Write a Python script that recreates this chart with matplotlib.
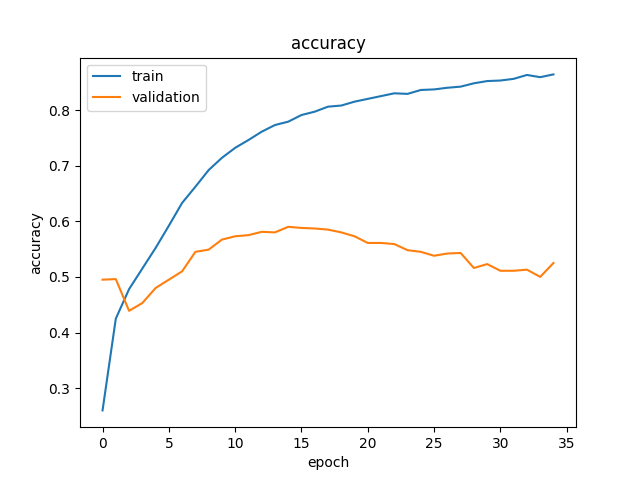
import matplotlib
matplotlib.use('Agg')
import matplotlib.pyplot as plt

# accuracy per epoch
train_acc = [0.260, 0.425, 0.478, 0.515, 0.552, 0.592, 0.633, 0.662, 0.692, 0.714,
             0.732, 0.746, 0.761, 0.773, 0.779, 0.791, 0.797, 0.806, 0.808, 0.815,
             0.820, 0.825, 0.830, 0.829, 0.836, 0.837, 0.840, 0.842, 0.848, 0.852,
             0.853, 0.856, 0.863, 0.859, 0.864]
val_acc = [0.495, 0.496, 0.439, 0.453, 0.480, 0.495, 0.510, 0.545, 0.549, 0.567,
           0.573, 0.575, 0.581, 0.580, 0.590, 0.588, 0.587, 0.585, 0.580, 0.573,
           0.561, 0.561, 0.559, 0.548, 0.545, 0.538, 0.542, 0.543, 0.516, 0.523,
           0.511, 0.511, 0.513, 0.500, 0.525]

fig = plt.figure(figsize=(6.4, 4.8), dpi=100)
plt.plot(train_acc)
plt.plot(val_acc)
plt.title('accuracy')
plt.ylabel('accuracy')
plt.xlabel('epoch')
plt.legend(['train', 'validation'], loc='upper left')
plt.savefig('out.png')
